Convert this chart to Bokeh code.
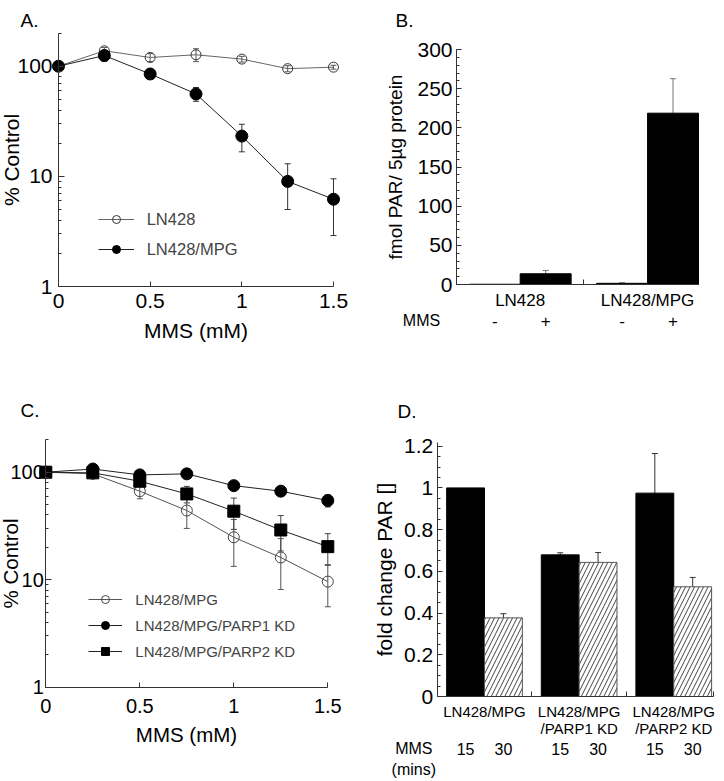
import numpy as np
from bokeh.plotting import figure
from bokeh.layouts import gridplot
from bokeh.models import (Range1d, FixedTicker, Whisker, TeeHead, ColumnDataSource,
                          Legend, LegendItem)
from bokeh.core.properties import value
from bokeh.embed import file_html
from bokeh.resources import INLINE

FONT = "Liberation Sans"

# ---------------- data ----------------
# Panel A: survival vs MMS dose
mms_mM = [0, 0.25, 0.5, 0.75, 1.0, 1.25, 1.5]
a_ln428 = [100, 138, 120, 127, 116, 95, 98]
a_ln428_err = [0, 10, 10, 17, 7, 6, 4]
a_mpg = [100, 125, 85, 56, 23.2, 9.0, 6.2]
a_mpg_err = [0, 14, 9, 8, 6.5, 4, 3.3]
a_names = ["LN428", "LN428/MPG"]

# Panel B: PAR levels
b_lines = ["LN428", "LN428/MPG"]
b_mms = ["-", "+"]
b_par = [0.3, 13.7, 1.5, 218.7]
b_par_err = [0, 4.2, 0.8, 44]

# Panel C: survival vs MMS dose (knock-downs)
c_names = ["LN428/MPG", "LN428/MPG/PARP1 KD", "LN428/MPG/PARP2 KD"]
c_mpg = [100, 96.5, 66.6, 44, 24.8, 16.1, 9.6]
c_mpg_err = [0, 3, 10, 14, 11.5, 8, 4]
c_parp1 = [100, 107, 94.4, 96.5, 75, 66.6, 54.5]
c_parp1_err = [0, 3, 4, 4, 4, 4, 7]
c_parp2 = [100, 98.6, 82.4, 62.8, 43.4, 29, 20.3]
c_parp2_err = [0, 3, 8, 11, 14, 10.5, 6.5]

# Panel D: fold change PAR
d_lines = ["LN428/MPG", "LN428/MPG\n/PARP1 KD", "LN428/MPG\n/PARP2 KD"]
d_mins = ["15", "30"]
d_fold = [1.0, 0.377, 0.679, 0.643, 0.975, 0.526]
d_fold_err = [0, 0.02, 0.01, 0.047, 0.19, 0.045]

# tick definitions
dose_ticks = [0, 0.5, 1, 1.5]
dose_labels = ["0", "0.5", "1", "1.5"]
log_ticks = [1, 10, 100]
log_labels = ["1", "10", "100"]
b_ticks = [0, 50, 100, 150, 200, 250, 300]
b_labels = ["0", "50", "100", "150", "200", "250", "300"]
d_ticks = [0, 0.2, 0.4, 0.6, 0.8, 1.0, 1.2]
d_labels = ["0", "0.2", "0.4", "0.6", "0.8", "1", "1.2"]


# ---------------- helpers ----------------
def axis_range(size, p_lo, v_lo, p_hi, v_hi, from_top=False, log=False):
    if log:
        v_lo, v_hi = np.log10(v_lo), np.log10(v_hi)
    if from_top:
        p_lo, p_hi = size - p_lo, size - p_hi
    ppu = (p_hi - p_lo) / (v_hi - v_lo)
    start = v_lo - p_lo / ppu
    end = start + size / ppu
    if log:
        start, end = 10 ** start, 10 ** end
    return Range1d(start, end)


def make_fig(origin, size, xa, ya, ylog=False):
    ox, oy = origin
    w, h = size
    xr = axis_range(w, xa[0] - ox, xa[1], xa[2] - ox, xa[3])
    yr = axis_range(h, ya[0] - oy, ya[1], ya[2] - oy, ya[3], from_top=True, log=ylog)
    p = figure(width=w, height=h, x_range=xr, y_range=yr,
               y_axis_type="log" if ylog else "linear",
               output_backend="svg", toolbar_location=None, tools="",
               min_border=0)
    p.min_border_left = 0
    p.min_border_right = 0
    p.min_border_top = 0
    p.min_border_bottom = 0
    p.outline_line_color = None
    p.xgrid.visible = False
    p.ygrid.visible = False
    p.background_fill_color = "white"
    p.border_fill_color = "white"
    return p


def style_axis(ax, fixed, bounds, ticks, labels, minor=(), size="21px", standoff=5,
               tick_in=5, label="", label_size="21px", label_standoff=5):
    ax.fixed_location = fixed
    ax.bounds = bounds
    ax.ticker = FixedTicker(ticks=list(ticks), minor_ticks=list(minor))
    ax.major_label_overrides = {t: l for t, l in zip(ticks, labels)}
    ax.major_label_text_font = FONT
    ax.major_label_text_font_size = size
    ax.major_label_text_color = "black"
    ax.major_label_standoff = standoff
    ax.major_tick_in = tick_in
    ax.major_tick_out = 0
    ax.minor_tick_in = 3
    ax.minor_tick_out = 0
    ax.axis_line_color = "#333333"
    ax.major_tick_line_color = "#333333"
    ax.minor_tick_line_color = "#333333"
    ax.axis_label = label
    ax.axis_label_text_font = FONT
    ax.axis_label_text_font_style = "normal"
    ax.axis_label_text_font_size = label_size
    ax.axis_label_text_color = "black"
    ax.axis_label_standoff = label_standoff


def add_whiskers(p, x, y, err, color, lower=True, head=6):
    x = np.asarray(x, float)
    y = np.asarray(y, float)
    e = np.asarray(err, float)
    m = e > 0
    src = ColumnDataSource(dict(x=x[m], hi=(y + e)[m], lo=(y - e)[m] if lower else y[m]))
    w = Whisker(source=src, base="x", upper="hi", lower="lo", dimension="height",
                line_color=color, line_width=1,
                upper_head=TeeHead(size=head, line_color=color, line_width=1),
                lower_head=TeeHead(size=head, line_color=color, line_width=1) if lower else None)
    p.add_layout(w)


def panel_letter(p, letter, dx, baseline):
    p.text(x=[p.x_range.start], y=[p.y_range.end], text=[letter],
           x_offset=dx, y_offset=baseline, text_align="left", text_baseline="alphabetic",
           text_font=value(FONT), text_font_size=value("19px"), text_color="black")


def txt(p, x, y, texts, dx, dy, size, align="center"):
    p.text(x=list(x), y=list(y), text=list(texts), x_offset=dx, y_offset=dy,
           text_align=align, text_baseline="middle",
           text_font=value(FONT), text_font_size=value(size), text_color="black")


def bar_positions(n_groups, n_sub, offset=0.25, gap=0.5):
    pitch = n_sub + gap
    xs = [offset + g * pitch + k + 0.5 for g in range(n_groups) for k in range(n_sub)]
    centers = [offset + g * pitch + n_sub / 2 for g in range(n_groups)]
    seps = [(g + 1) * pitch for g in range(n_groups - 1)]
    end = offset + n_groups * pitch - gap
    return xs, centers, seps, end


log_minor = [m * 10 ** e for e in (0, 1) for m in range(2, 10)] + [200]

W1, W2, H1, H2 = 362, 361, 390, 390

# ---------------- Panel A ----------------
pA = make_fig((0, 0), (W1, H1), (58, 0, 333, 1.5), (286, 1, 65.7, 100), ylog=True)
style_axis(pA.xaxis[0], 1, (0, 1.5), dose_ticks, dose_labels, size="21px", standoff=7,
           tick_in=5, label="MMS (mM)", label_size="21px", label_standoff=8)
style_axis(pA.yaxis[0], 0, (1, 200), log_ticks, log_labels, minor=log_minor, size="21px",
           standoff=6, tick_in=6, label="% Control", label_size="21px", label_standoff=-9)
add_whiskers(pA, mms_mM, a_ln428, a_ln428_err, "#555555")
add_whiskers(pA, mms_mM, a_mpg, a_mpg_err, "#333333")
la1 = pA.line(mms_mM, a_ln428, line_color="#666666", line_width=1)
sa1 = pA.scatter(mms_mM, a_ln428, marker="circle", size=10, fill_color=None,
                 line_color="#333333", line_width=1)
la2 = pA.line(mms_mM, a_mpg, line_color="#222222", line_width=1)
sa2 = pA.scatter(mms_mM, a_mpg, marker="circle", size=12, fill_color="black",
                 line_color="black")
legA = Legend(items=[LegendItem(label=a_names[0], renderers=[la1, sa1]),
                     LegendItem(label=a_names[1], renderers=[la2, sa2])],
              location=(97.7, H1 - 209.3 - 50), glyph_width=36, glyph_height=20,
              label_height=20, spacing=10, label_standoff=13, padding=0, margin=0,
              border_line_color=None, background_fill_alpha=0,
              label_text_font=FONT, label_text_font_size="16.5px")
pA.add_layout(legA)
panel_letter(pA, "A.", 20, 20)

# ---------------- Panel B ----------------
b_x, b_centers, b_seps, b_end = bar_positions(len(b_lines), len(b_mms))
pB = make_fig((W1, 0), (W2, H1), (456, 0, 698, b_end), (284, 0, 49, 300))
style_axis(pB.xaxis[0], 0, (0, b_end), b_seps, [""] * len(b_seps), size="1px",
           standoff=0, tick_in=5)
style_axis(pB.yaxis[0], 0, (0, 300), b_ticks, b_labels, minor=list(range(0, 301, 10)),
           size="21px", standoff=4, tick_in=5, label="fmol PAR/ 5\u00b5g protein",
           label_size="19px", label_standoff=8)
pB.vbar(x=b_x, top=b_par, width=1, bottom=0, fill_color="black", line_color="black")
add_whiskers(pB, b_x, b_par, b_par_err, "#777777", lower=False)
txt(pB, b_centers, [0] * len(b_centers), b_lines, 0, 16, "17px")
txt(pB, b_x, [0] * len(b_x), b_mms * len(b_lines), 0, 36, "17px")
txt(pB, [0], [0], ["MMS"], -35, 36, "16px")
panel_letter(pB, "B.", 33, 20)

# ---------------- Panel C ----------------
pC = make_fig((0, H1), (W1, H2), (45.3, 0, 327.3, 1.5), (686.7, 1, 471.7, 100), ylog=True)
style_axis(pC.xaxis[0], 1, (0, 1.5), dose_ticks, dose_labels, size="20px", standoff=12,
           tick_in=5, label="MMS (mM)", label_size="20.5px", label_standoff=6)
style_axis(pC.yaxis[0], 0, (1, 200), log_ticks, log_labels, minor=log_minor, size="20px",
           standoff=2, tick_in=6, label="% Control", label_size="20.5px", label_standoff=-15)
add_whiskers(pC, mms_mM, c_mpg, c_mpg_err, "#555555")
add_whiskers(pC, mms_mM, c_parp1, c_parp1_err, "#333333")
add_whiskers(pC, mms_mM, c_parp2, c_parp2_err, "#444444")
lc1 = pC.line(mms_mM, c_mpg, line_color="#555555", line_width=1)
sc1 = pC.scatter(mms_mM, c_mpg, marker="circle", size=11, fill_color=None,
                 line_color="#444444", line_width=1)
lc2 = pC.line(mms_mM, c_parp1, line_color="#222222", line_width=1)
sc2 = pC.scatter(mms_mM, c_parp1, marker="circle", size=12, fill_color="black",
                 line_color="black")
lc3 = pC.line(mms_mM, c_parp2, line_color="#222222", line_width=1)
sc3 = pC.scatter(mms_mM, c_parp2, marker="square", size=12, fill_color="black",
                 line_color="black")
legC = Legend(items=[LegendItem(label=c_names[0], renderers=[lc1, sc1]),
                     LegendItem(label=c_names[1], renderers=[lc2, sc2]),
                     LegendItem(label=c_names[2], renderers=[lc3, sc3])],
              location=(88.3, H2 - 199 - 72), glyph_width=34, glyph_height=20,
              label_height=20, spacing=6, label_standoff=13, padding=0, margin=0,
              border_line_color=None, background_fill_alpha=0,
              label_text_font=FONT, label_text_font_size="15px")
pC.add_layout(legC)
panel_letter(pC, "C.", 20, 20)

# ---------------- Panel D ----------------
d_x, d_centers, d_seps, d_end = bar_positions(len(d_lines), len(d_mins))
d_axis_end = d_end + 0.05
pD = make_fig((W1, H1), (W2, H2), (436.7, 0, 713, d_axis_end), (696, 0, 445.7, 1.2))
style_axis(pD.xaxis[0], 0, (0, d_axis_end), d_seps + [d_axis_end], [""] * (len(d_seps) + 1),
           size="1px", standoff=0, tick_in=5)
style_axis(pD.yaxis[0], 0, (0, 1.22), d_ticks, d_labels,
           minor=[round(v, 2) for v in np.arange(0, 1.2001, 0.05)],
           size="21px", standoff=4, tick_in=5, label="fold change PAR []",
           label_size="21px", label_standoff=5)
d_x = np.array(d_x)
d_fold_a = np.array(d_fold)
black = np.arange(len(d_x)) % 2 == 0
pD.vbar(x=d_x[black], top=d_fold_a[black], width=1, bottom=0,
        fill_color="black", line_color="black")
pD.vbar(x=d_x[~black], top=d_fold_a[~black], width=1, bottom=0,
        fill_color="white", line_color="#555555", line_width=1,
        hatch_pattern="/", hatch_color="#444444", hatch_scale=9, hatch_weight=1)
add_whiskers(pD, d_x, d_fold, d_fold_err, "#333333")
line1 = [s.split("\n")[0] for s in d_lines]
line2 = [s.split("\n")[1] if "\n" in s else "" for s in d_lines]
txt(pD, d_centers, [0] * len(d_centers), line1, 0, 14.7, "15px")
txt(pD, d_centers, [0] * len(d_centers), line2, 0, 32.3, "15px")
txt(pD, d_x, [0] * len(d_x), d_mins * len(d_lines), 0, 52.3, "16px")
txt(pD, [0, 0], [0, 0], ["MMS", "(mins)"], -23.4, [52.3, 73], "16px")
panel_letter(pD, "D.", 35, 21)

grid = gridplot([[pA, pB], [pC, pD]], toolbar_location=None)
open("out.html", "w").write(file_html(grid, INLINE))
